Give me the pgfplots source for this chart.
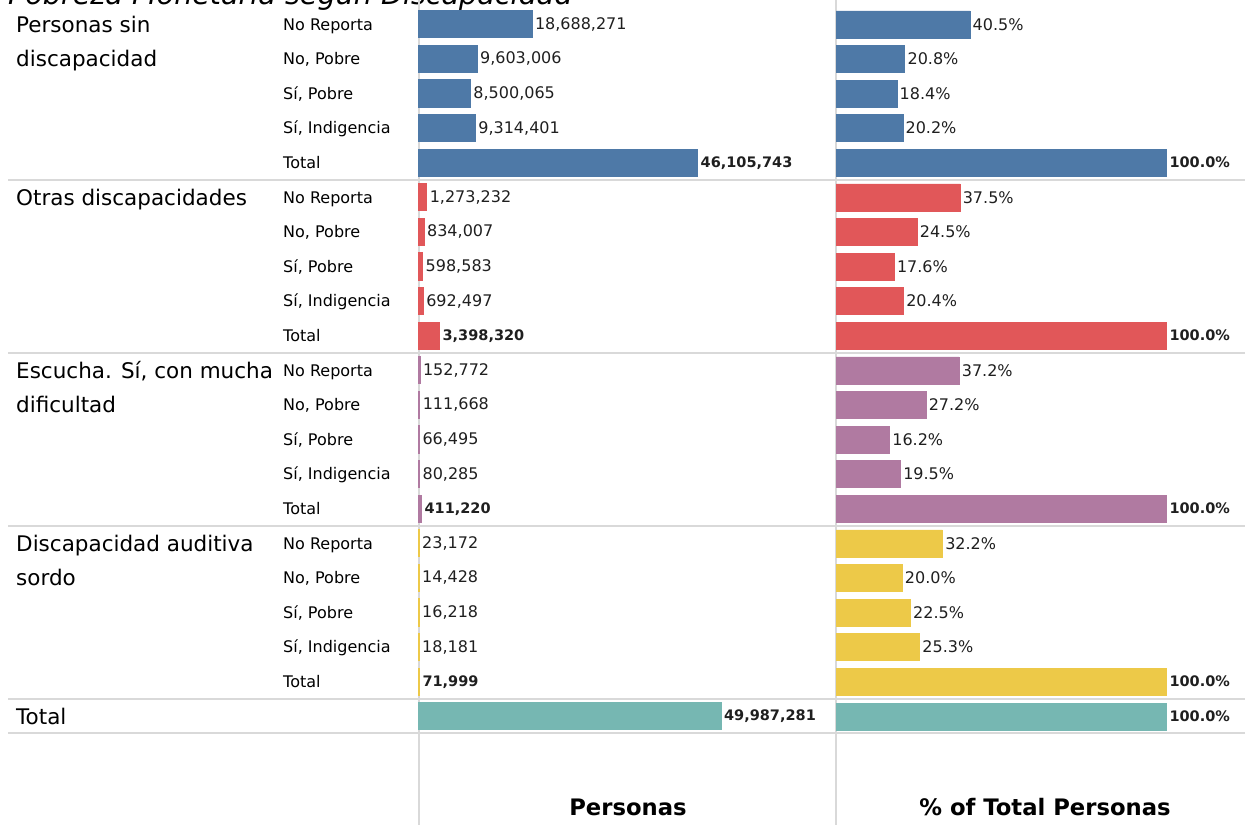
\documentclass[border=0pt]{standalone}
\usepackage{pgfplots}
\pgfplotsset{compat=1.18}
\usepackage{fontspec}
\setmainfont{DejaVu Sans}
\definecolor{tblue}{HTML}{4E79A7}
\definecolor{tred}{HTML}{E15759}
\definecolor{tpurple}{HTML}{B07AA1}
\definecolor{tyellow}{HTML}{EDC948}
\definecolor{tteal}{HTML}{76B7B2}
\definecolor{rule}{HTML}{D9D9D9}

\newcommand\rowlab[2]{\node[anchor=base west,inner sep=0,font=\fontsize{16}{19}\selectfont] at (283,{30.1+34.6*(#1)}) {#2};}
\newcommand\grplab[2]{\node[anchor=base west,inner sep=0,font=\fontsize{21.5}{24}\selectfont] at (16,{32.3+34.6*(#1)}) {#2};}

\pgfplotsset{
  tabpanel/.style={
    scale only axis, height=825pt, anchor=south west,
    ymin=0, ymax=825, y dir=reverse, hide axis, clip=false,
    xbar, bar width=27, bar shift=0pt,
    every axis plot post/.append style={bar shift=0pt},
    nodes near coords align={horizontal},
    nodes near coords style={font=\fontsize{16}{19}\selectfont, text=black!88, inner sep=2.5pt, anchor=west},
  },
  totnode/.style={nodes near coords style={font=\bfseries\fontsize{14.5}{17}\selectfont}},
}

\begin{document}
\begin{tikzpicture}
\begin{scope}[x=1pt,y=-1pt,yshift=825pt]
\path[use as bounding box] (0,0) rectangle (1245,825);

\node[anchor=base west,inner sep=0,font=\itshape\fontsize{28.6}{30}\selectfont] at (8,5) {Pobreza Monetaria según Discapacidad};

\foreach \yy in {180,353,526,699,733} \draw[rule, line width=1.5pt] (8,\yy) -- (1245,\yy);
\draw[rule, line width=1.2pt] (419,0) -- (419,825);
\draw[rule, line width=1.2pt] (836,0) -- (836,825);

% left labels
\grplab{0}{Personas sin}
\grplab{1}{discapacidad}
\grplab{5}{Otras discapacidades}
\grplab{10}{Escucha. Sí, con mucha}
\grplab{11}{dificultad}
\grplab{15}{Discapacidad auditiva}
\grplab{16}{sordo}
\grplab{20}{Total}
\foreach \g in {0,5,10,15}{
  \rowlab{\g}{No Reporta}
  \rowlab{\g+1}{No, Pobre}
  \rowlab{\g+2}{Sí, Pobre}
  \rowlab{\g+3}{Sí, Indigencia}
  \rowlab{\g+4}{Total}
}

\node[anchor=base,inner sep=0,font=\bfseries\fontsize{22.7}{25}\selectfont] at (628,815) {Personas};
\node[anchor=base,inner sep=0,font=\bfseries\fontsize{22.7}{25}\selectfont] at (1045,815) {\% of Total Personas};
\end{scope}

% Personas
\begin{axis}[tabpanel, at={(419pt,0pt)}, width=417pt, xmin=0, xmax=69022173,
  every axis plot/.append style={line width=1.2pt},
  point meta=explicit symbolic, nodes near coords={\pgfplotspointmeta}]
\addplot[fill=tblue, draw=tblue] table[x=v,y=y,meta=lab] {
y v lab
24.3 18688271 18,688,271
58.9 9603006 9,603,006
93.5 8500065 8,500,065
128.1 9314401 9,314,401
};
\addplot[fill=tblue, draw=tblue, totnode] table[x=v,y=y,meta=lab] {
y v lab
162.7 46105743 46,105,743
};
\addplot[fill=tred, draw=tred] table[x=v,y=y,meta=lab] {
y v lab
197.3 1273232 1,273,232
231.9 834007 834,007
266.5 598583 598,583
301.1 692497 692,497
};
\addplot[fill=tred, draw=tred, totnode] table[x=v,y=y,meta=lab] {
y v lab
335.7 3398320 3,398,320
};
\addplot[fill=tpurple, draw=tpurple] table[x=v,y=y,meta=lab] {
y v lab
370.3 152772 152,772
404.9 111668 111,668
439.5 66495 66,495
474.1 80285 80,285
};
\addplot[fill=tpurple, draw=tpurple, totnode] table[x=v,y=y,meta=lab] {
y v lab
508.7 411220 411,220
};
\addplot[fill=tyellow, draw=tyellow] table[x=v,y=y,meta=lab] {
y v lab
543.3 23172 23,172
577.9 14428 14,428
612.5 16218 16,218
647.1 18181 18,181
};
\addplot[fill=tyellow, draw=tyellow, totnode] table[x=v,y=y,meta=lab] {
y v lab
681.7 71999 71,999
};
\addplot[fill=tteal, draw=tteal, totnode] table[x=v,y=y,meta=lab] {
y v lab
716.3 49987281 49,987,281
};
\end{axis}

% % of Total Personas
\begin{axis}[tabpanel, at={(836pt,0pt)}, width=409pt, xmin=0, xmax=123.68,
  every axis plot/.append style={line width=0.6pt},
  point meta=x,
  nodes near coords={\pgfmathprintnumber[fixed,fixed zerofill,precision=1,assume math mode=true]{\pgfplotspointmeta}\%}]
\addplot[fill=tblue, draw=tblue] table[x=p,y=y] {
y p
24.3 40.5
58.9 20.8
93.5 18.4
128.1 20.2
};
\addplot[fill=tblue, draw=tblue, totnode] table[x=p,y=y] {
y p
162.7 100
};
\addplot[fill=tred, draw=tred] table[x=p,y=y] {
y p
197.3 37.5
231.9 24.5
266.5 17.6
301.1 20.4
};
\addplot[fill=tred, draw=tred, totnode] table[x=p,y=y] {
y p
335.7 100
};
\addplot[fill=tpurple, draw=tpurple] table[x=p,y=y] {
y p
370.3 37.2
404.9 27.2
439.5 16.2
474.1 19.5
};
\addplot[fill=tpurple, draw=tpurple, totnode] table[x=p,y=y] {
y p
508.7 100
};
\addplot[fill=tyellow, draw=tyellow] table[x=p,y=y] {
y p
543.3 32.2
577.9 20.0
612.5 22.5
647.1 25.3
};
\addplot[fill=tyellow, draw=tyellow, totnode] table[x=p,y=y] {
y p
681.7 100
};
\addplot[fill=tteal, draw=tteal, totnode] table[x=p,y=y] {
y p
716.3 100
};
\end{axis}
\end{tikzpicture}
\end{document}
